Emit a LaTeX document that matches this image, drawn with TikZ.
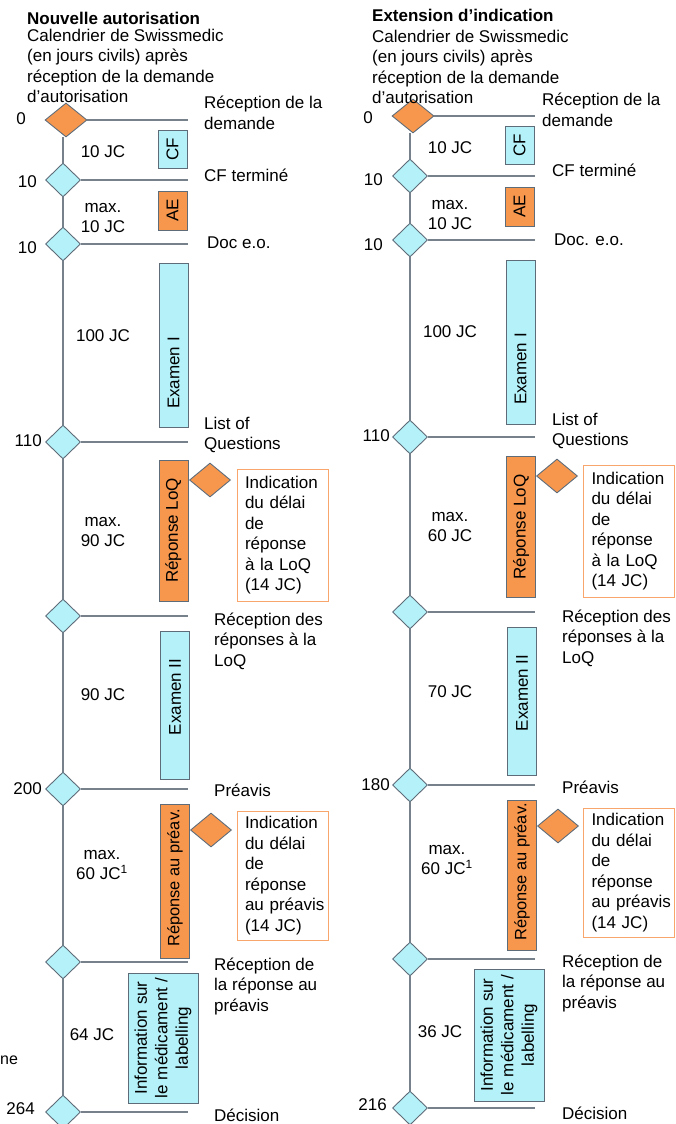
\documentclass[tikz,border=0pt]{standalone}
\usepackage{fontspec}
\setmainfont{Liberation Sans}
\usetikzlibrary{shapes.geometric}

\definecolor{cyanclair}{HTML}{B4F1F8}
\definecolor{orangef}{HTML}{F7974E}
\definecolor{bordure}{HTML}{5E6C7A}
\definecolor{trait}{HTML}{77818C}
\definecolor{orangeclair}{HTML}{F9A66C}
\newcommand\taille{\fontsize{17}{20.5}\selectfont}

\begin{document}
\begin{tikzpicture}[x=1pt, y=-1pt, font=\taille,
  axe/.style={draw=trait, line width=1.2pt},
  jalon/.style={diamond, draw=bordure, fill=cyanclair, line width=0.9pt,
    minimum width=35pt, minimum height=34pt, inner sep=0pt},
  jalono/.style={jalon, fill=orangef, minimum width=42pt},
  phase/.style={draw=bordure, line width=0.9pt, minimum width=29pt, inner sep=0pt},
  vert/.style={rotate=90, inner sep=0pt, align=center},
  note/.style={draw=orangeclair, fill=white, line width=1pt, minimum width=91pt,
    text width=75pt, inner xsep=8pt, inner ysep=0pt, align=left},
  etiq/.style={anchor=west, align=left, inner sep=0pt},
  jour/.style={anchor=east, inner sep=0pt},
  duree/.style={align=center, inner sep=0pt}]
  \useasboundingbox (0,0) rectangle (675,1124);

  % Nouvelle autorisation
  \node[jalono] (na0) at (66,120) {};
  \node[jalon] (na1) at (63,180) {};
  \node[jalon] (na2) at (63,244) {};
  \node[jalon] (na3) at (63,442) {};
  \node[jalon] (na4) at (63,616) {};
  \node[jalon] (na5) at (63,789) {};
  \node[jalon] (na6) at (63,962) {};
  \node[jalon] (na7) at (63,1112) {};
  \coordinate (naFin) at (188,0);
  \draw[axe] (na0.south -| na1) -- (na1) -- (na2) -- (na3) -- (na4) -- (na5) -- (na6) -- (na7);
  \foreach \i in {0,...,7}
    \draw[axe] (na\i) -- (na\i -| naFin);

  \node[etiq, font=\taille\bfseries] (naTitre) at (27,18) {Nouvelle autorisation};
  \node[etiq] (naCal) at (27,66) {Calendrier de Swissmedic\\(en jours civils) après\\réception de la demande\\d’autorisation};

  \node[jour] (naJ0) at (26,119) {0};
  \node[jour] (naJ1) at (37,182) {10};
  \node[jour] (naJ2) at (37,248) {10};
  \node[jour] (naJ3) at (42,441) {110};
  \node[jour] (naJ5) at (42,789) {200};
  \node[jour] (naJ7) at (35,1109) {264};

  \node[duree] (naD1) at (103,152) {10 JC};
  \node[duree] (naD2) at (103,218) {max.\\10 JC};
  \node[duree] (naD3) at (103,336) {100 JC};
  \node[duree] (naD4) at (103,532) {max.\\90 JC};
  \node[duree] (naD5) at (103,695) {90 JC};
  \node[duree] (naD6) at (102,865) {max.\\60 JC\textsuperscript{1}};
  \node[duree] (naD7) at (92,1035) {64 JC};

  % phases
  \node[phase, fill=cyanclair, minimum height=38pt] (naCF) at (172.5,149) {};
  \node[vert] (naCFt) at (naCF) {CF};
  \node[phase, fill=orangef, minimum height=39pt] (naAE) at (172.5,210.5) {};
  \node[vert] (naAEt) at (naAE) {AE};
  \node[phase, fill=cyanclair, minimum height=164pt] (naExI) at (173.5,345) {};
  \node[vert] (naExIt) at (173.5,373) {Examen I};
  \node[phase, fill=orangef, minimum height=141pt] (naLoQ) at (173.5,530.5) {};
  \node[vert] (naLoQt) at (naLoQ) {Réponse LoQ};
  \node[phase, fill=cyanclair, minimum height=148pt] (naExII) at (175,705) {};
  \node[vert] (naExIIt) at (175,697) {Examen II};
  \node[phase, fill=orangef, minimum height=154pt] (naPre) at (175,881) {};
  \node[vert, font=\fontsize{16.4}{20}\selectfont] (naPret) at (175,878) {Réponse au préav.};
  \node[phase, fill=cyanclair, minimum width=70pt, minimum height=130pt] (naInfo) at (163,1038) {};
  \node[vert] (naInfot) at (naInfo) {Information sur\\le médicament /\\labelling};

  \node[jalono, minimum width=41pt] (naQ) at (210,480) {};
  \node[note, minimum height=132pt] (naQn) at (282.5,535) {Indication\\du délai\\de\\réponse\\à~la~LoQ\\(14~JC)};
  \node[jalono, minimum width=41pt] (naP) at (211,830) {};
  \node[note, minimum height=129pt] (naPn) at (282.5,875.5) {Indication\\du délai\\de\\réponse\\au~préavis\\(14~JC)};

  \node[etiq] (naE0) at (204,113) {Réception de la\\demande};
  \node[etiq] (naE1) at (204,175) {CF terminé};
  \node[etiq] (naE2) at (207,243) {Doc e.o.};
  \node[etiq] (naE3) at (204,435) {List of\\Questions};
  \node[etiq] (naE4) at (214,641) {Réception des\\réponses à la\\LoQ};
  \node[etiq] (naE5) at (214,790) {Préavis};
  \node[etiq] (naE6) at (214,986) {Réception de\\la réponse au\\préavis};
  \node[etiq] (naE7) at (214,1115) {Décision};
  \node[etiq, font=\fontsize{16}{20}\selectfont] (naNe) at (0,1060) {ne};

  % Extension d'indication
  \node[jalono] (ei0) at (413,116) {};
  \node[jalon] (ei1) at (410,176) {};
  \node[jalon] (ei2) at (410,240) {};
  \node[jalon] (ei3) at (410,437) {};
  \node[jalon] (ei4) at (410,612) {};
  \node[jalon] (ei5) at (410,785) {};
  \node[jalon] (ei6) at (410,959) {};
  \node[jalon] (ei7) at (410,1108) {};
  \coordinate (eiFin) at (535,0);
  \draw[axe] (ei0.south -| ei1) -- (ei1) -- (ei2) -- (ei3) -- (ei4) -- (ei5) -- (ei6) -- (ei7);
  \foreach \i in {0,...,7}
    \draw[axe] (ei\i) -- (ei\i -| eiFin);

  \node[etiq, font=\taille\bfseries] (eiTitre) at (372,15) {Extension d’indication};
  \node[etiq] (eiCal) at (372,67) {Calendrier de Swissmedic\\(en jours civils) après\\réception de la demande\\d’autorisation};

  \node[jour] (eiJ0) at (373,118) {0};
  \node[jour] (eiJ1) at (383,180) {10};
  \node[jour] (eiJ2) at (383,245) {10};
  \node[jour] (eiJ3) at (390,436) {110};
  \node[jour] (eiJ5) at (390,785) {180};
  \node[jour] (eiJ7) at (387,1105) {216};

  \node[duree] (eiD1) at (450,148) {10 JC};
  \node[duree] (eiD2) at (450,215) {max.\\10 JC};
  \node[duree] (eiD3) at (450,332) {100 JC};
  \node[duree] (eiD4) at (450,527) {max.\\60 JC};
  \node[duree] (eiD5) at (450,692) {70 JC};
  \node[duree] (eiD6) at (447,860) {max.\\60 JC\textsuperscript{1}};
  \node[duree] (eiD7) at (440,1032) {36 JC};

  % phases
  \node[phase, fill=cyanclair, minimum height=38pt] (eiCF) at (519.5,145) {};
  \node[vert] (eiCFt) at (eiCF) {CF};
  \node[phase, fill=orangef, minimum height=39pt] (eiAE) at (519.5,206.5) {};
  \node[vert] (eiAEt) at (eiAE) {AE};
  \node[phase, fill=cyanclair, minimum height=164pt] (eiExI) at (520.5,342) {};
  \node[vert] (eiExIt) at (520.5,369) {Examen I};
  \node[phase, fill=orangef, minimum height=141pt] (eiLoQ) at (521,527) {};
  \node[vert] (eiLoQt) at (eiLoQ) {Réponse LoQ};
  \node[phase, fill=cyanclair, minimum height=148pt] (eiExII) at (522,701) {};
  \node[vert] (eiExIIt) at (522,693) {Examen II};
  \node[phase, fill=orangef, minimum height=150pt] (eiPre) at (522,875) {};
  \node[vert, font=\fontsize{16.4}{20}\selectfont] (eiPret) at (522,872) {Réponse au préav.};
  \node[phase, fill=cyanclair, minimum width=70pt, minimum height=132pt] (eiInfo) at (509,1035) {};
  \node[vert] (eiInfot) at (eiInfo) {Information sur\\le médicament /\\labelling};

  \node[jalono, minimum width=41pt] (eiQ) at (557,476) {};
  \node[note, minimum height=132pt] (eiQn) at (629,531) {Indication\\du délai\\de\\réponse\\à~la~LoQ\\(14~JC)};
  \node[jalono, minimum width=41pt] (eiP) at (558,826) {};
  \node[note, minimum height=129pt] (eiPn) at (629,872.5) {Indication\\du délai\\de\\réponse\\au~préavis\\(14~JC)};

  \node[etiq] (eiE0) at (542,110) {Réception de la\\demande};
  \node[etiq] (eiE1) at (552,170) {CF terminé};
  \node[etiq] (eiE2) at (554,240) {Doc. e.o.};
  \node[etiq] (eiE3) at (552,431) {List of\\Questions};
  \node[etiq] (eiE4) at (562,638) {Réception des\\réponses à la\\LoQ};
  \node[etiq] (eiE5) at (562,787) {Préavis};
  \node[etiq] (eiE6) at (562,983) {Réception de\\la réponse au\\préavis};
  \node[etiq] (eiE7) at (562,1113) {Décision};
\end{tikzpicture}
\end{document}
